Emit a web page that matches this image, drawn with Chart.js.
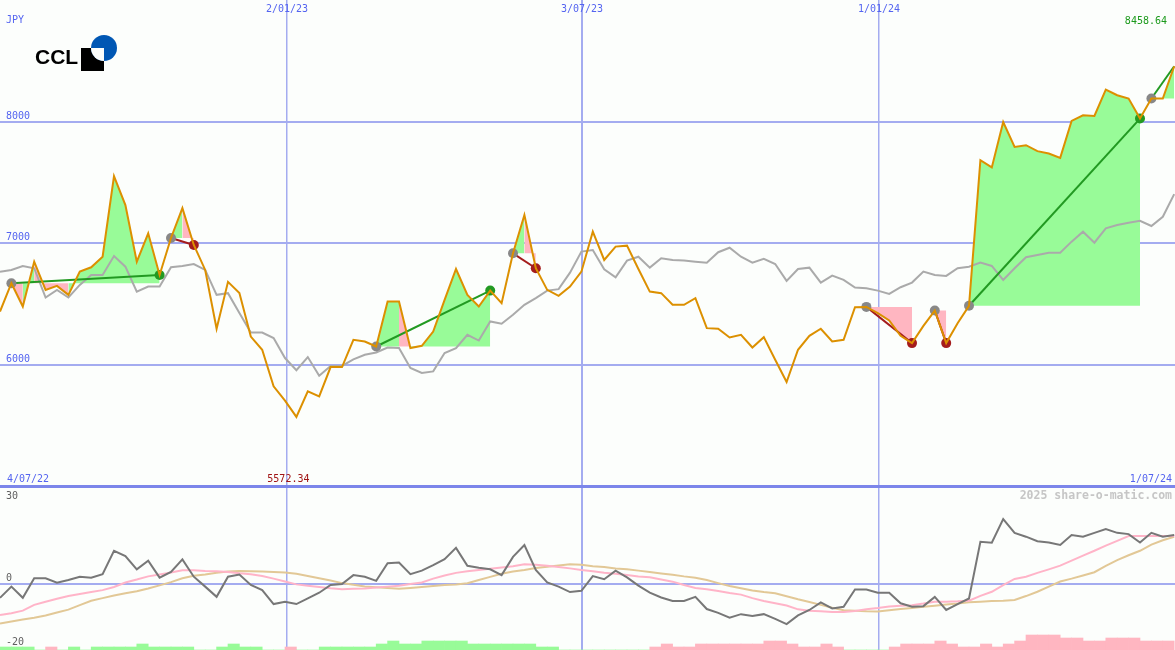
<!DOCTYPE html>
<html>
<head>
<meta charset="utf-8">
<title>CCL weekly</title>
<script src="https://cdn.jsdelivr.net/npm/chart.js@4.4.1/dist/chart.umd.min.js"></script>
<style>
  html, body { margin: 0; padding: 0; background: #fcfefc; }
  #wrap { position: relative; width: 1175px; height: 650px; overflow: hidden; background: #fcfefc; }
  #priceChart { position: absolute; left: 0; top: 0; }
  #momentumChart { position: absolute; left: 0; top: 489px; }
</style>
</head>
<body>
<div id="wrap">
  <canvas id="priceChart" width="1175" height="489"></canvas>
  <canvas id="momentumChart" width="1175" height="161"></canvas>
</div>
<script>
// Weekly closes, 4/07/22 .. 1/07/24 (one value per week)
const price = [
  6440, 6673, 6481, 6850, 6618, 6651, 6577, 6768, 6804, 6891,
  7554, 7316, 6850, 7084, 6741, 7045, 7291, 6988, 6782, 6298,
  6684, 6593, 6234, 6125, 5824, 5706, 5572.34, 5783, 5742, 5983,
  5983, 6207, 6193, 6152, 6522, 6522, 6139, 6158, 6275, 6536,
  6790, 6577, 6481, 6612, 6509, 6919, 7234, 6796, 6618, 6569,
  6645, 6768, 7097, 6864, 6974, 6982, 6790, 6604, 6591, 6495,
  6495, 6550, 6303, 6298, 6226, 6248, 6144, 6229, 6043, 5860,
  6125, 6240, 6298, 6193, 6207, 6476, 6478, 6427, 6367, 6240,
  6180, 6322, 6448, 6180, 6344, 6487, 7686, 7626, 8000, 7795,
  7809, 7760, 7741, 7705, 8009, 8055, 8050, 8267, 8220, 8193,
  8028, 8193, 8193, 8458.64
];

// grey moving average
const average = [
  6768, 6782, 6815, 6796, 6555, 6618, 6555, 6659, 6741, 6741,
  6897, 6809, 6604, 6645, 6645, 6804, 6815, 6831, 6782, 6577,
  6591, 6427, 6267, 6267, 6221, 6057, 5957, 6065, 5912, 5992,
  5992, 6046, 6084, 6103, 6144, 6139, 5975, 5934, 5947, 6098,
  6139, 6248, 6201, 6358, 6339, 6413, 6495, 6550, 6612, 6624,
  6760, 6933, 6946, 6788, 6722, 6859, 6891, 6801, 6878, 6864,
  6859, 6850, 6842, 6928, 6965, 6891, 6842, 6873, 6831, 6692,
  6790, 6801, 6678, 6735, 6700, 6637, 6632, 6612, 6585, 6640,
  6678, 6768, 6741, 6733, 6796, 6809, 6842, 6815, 6700, 6796,
  6887, 6905, 6924, 6924, 7015, 7097, 7006, 7125, 7152, 7171,
  7187, 7144, 7220, 7406
];

// lower panel: momentum and its two smoothings
const momentum = [
  -4.3, -0.8, -4.3, 1.8, 1.8, 0.4, 1.25, 2.3, 2.0, 3.1,
  10.4, 8.75, 4.6, 7.3, 2.0, 3.8, 7.7, 2.3, -0.8, -4.0,
  2.3, 3.0, -0.3, -1.9, -6.25, -5.5, -6.25, -4.5, -2.7, -0.3,
  0, 2.8, 2.3, 1.0, 6.5, 6.7, 3.1, 4.2, 5.9, 7.8,
  11.3, 5.7, 5.1, 4.6, 2.8, 8.5, 12.2, 4.4, 0.5, -0.8,
  -2.5, -2.1, 2.5, 1.5, 4.2, 2.1, -0.5, -2.7, -4.2, -5.3,
  -5.3, -4.0, -7.8, -9.0, -10.5, -9.4, -10.0, -9.4, -10.9, -12.5,
  -9.8, -8.1, -5.7, -7.6, -7.1, -1.7, -1.7, -2.7, -2.7, -6.0,
  -7.1, -6.9, -4.0, -8.1, -6.3, -4.5, 13.2, 12.9, 20.3, 16.0,
  14.8, 13.4, 13.0, 12.2, 15.3, 14.8, 16.0, 17.2, 16.0, 15.6,
  13.0, 16.0, 14.8, 15.3
];
const momentumFast = [
  -9.7, -9.1, -8.3, -6.5, -5.5, -4.6, -3.7, -3.1, -2.5, -1.9,
  -0.9, 0.5, 1.4, 2.4, 3.0, 3.6, 4.3, 4.3, 4.1, 4.0,
  3.8, 3.4, 3.1, 2.5, 1.7, 0.8, -0.1, -0.5, -0.9, -1.3,
  -1.6, -1.5, -1.4, -1.1, -0.8, -0.5, 0, 0.5, 1.7, 2.7,
  3.5, 4.0, 4.4, 4.8, 5.2, 5.6, 6.2, 6.0, 5.7, 5.3,
  4.9, 4.4, 4.0, 3.5, 3.2, 2.8, 2.4, 2.1, 1.4, 0.75,
  -0.3, -1.2, -1.6, -2.2, -2.8, -3.3, -4.4, -5.3, -6.0, -6.7,
  -7.9, -8.3, -8.5, -8.7, -8.7, -8.4, -7.9, -7.5, -7.0, -6.75,
  -6.6, -6.1, -5.5, -5.5, -5.4, -5.2, -3.7, -2.4, -0.3, 1.6,
  2.3, 3.5, 4.6, 5.75, 7.3, 8.9, 10.4, 12.0, 13.5, 15.0,
  15.0, 15.0, 15.0, 15.0
];
const momentumSlow = [
  -12.3, -11.7, -11.1, -10.5, -9.8, -8.9, -8.0, -6.6, -5.2, -4.4,
  -3.6, -2.9, -2.25, -1.4, -0.4, 0.6, 1.8, 2.6, 3.0, 3.5,
  3.9, 4.1, 4.0, 3.9, 3.75, 3.6, 3.2, 2.5, 1.8, 1.1,
  0.3, -0.2, -0.75, -1.0, -1.25, -1.5, -1.2, -0.9, -0.6, -0.3,
  -0.1, 0.25, 1.25, 2.25, 3.2, 3.9, 4.4, 5.0, 5.4, 5.8,
  6.2, 6.0, 5.6, 5.3, 4.9, 4.6, 4.2, 3.75, 3.3, 2.9,
  2.4, 2.0, 1.25, 0.3, -0.6, -1.3, -2.0, -2.5, -2.9, -3.8,
  -4.75, -5.6, -6.5, -7.4, -8.2, -8.3, -8.5, -8.6, -8.2, -7.8,
  -7.5, -7.1, -6.75, -6.4, -6.1, -5.7, -5.5, -5.3, -5.2, -5.0,
  -3.75, -2.4, -0.8, 0.8, 1.7, 2.7, 3.7, 5.7, 7.5, 9.0,
  10.4, 12.3, 13.7, 14.8
];
// small histogram along the bottom edge (+ green, - pink), one per week
const barLevel = [
  1, 1, 1, 0, -1, 0, 1, 0, 1, 1,
  1, 1, 2, 1, 1, 1, 1, 0, 0, 1,
  2, 1, 1, 0, 0, -1, 0, 0, 1, 1,
  1, 1, 1, 2, 3, 2, 2, 3, 3, 3,
  3, 2, 2, 2, 2, 2, 2, 1, 1, 0,
  0, 0, 0, 0, 0, 0, 0, -1, -2, -1,
  -1, -2, -2, -2, -2, -2, -2, -3, -3, -2,
  -1, -1, -2, -1, 0, 0, 0, 0, -1, -2,
  -2, -2, -3, -2, -1, -1, -2, -1, -2, -3,
  -5, -5, -5, -4, -4, -3, -3, -4, -4, -4,
  -3, -3, -3
];

// trades: entry week / exit week (last one still open)
const tradeOpen = [1, 15, 33, 45, 76, 82, 85, 101];
const tradeClose = [14, 17, 43, 47, 80, 83, 100, 103];

const dateGrid = [25.18, 51.05, 77.11];
const dateLabels = ['2/01/23', '3/07/23', '1/01/24'];
const firstDate = '4/07/22';
const lastDate = '1/07/24';
const currency = 'JPY';
const priceGrid = [5000, 6000, 7000, 8000];
const momentumLabels = [30, 0, -20];

const GREEN_FILL = '#98fb98';
const PINK_FILL = '#ffb6c1';
const GRID = '#a4acf0';
const DIVIDER = '#7c86ea';
const BLUE_TEXT = '#5464f0';
const FONT = '10px "DejaVu Sans Mono"';

const lowIndex = price.indexOf(Math.min(...price));
const toPoints = arr => arr.map((v, i) => ({x: i, y: v}));

function dateAxis() {
  return {
    type: 'linear', min: 0, max: 103.07, offset: false,
    afterBuildTicks: s => { s.ticks = dateGrid.map(v => ({value: v})); },
    ticks: {display: false},
    grid: {color: GRID, lineWidth: c => (c.index === 1 ? 2 : 1.5), drawTicks: false, offset: false},
    border: {display: false}
  };
}

// shaded areas between price and entry level for each trade
const fillSets = tradeOpen.map((start, t) => {
  const level = price[start];
  return {
    data: toPoints(price).slice(start, tradeClose[t] + 1),
    borderColor: 'transparent', borderWidth: 0, pointRadius: 0,
    backgroundColor: GREEN_FILL,
    fill: {target: {value: level}},
    segment: {backgroundColor: c => (c.p1.parsed.y < level ? PINK_FILL : GREEN_FILL)},
    order: 10
  };
});

const tradeSets = tradeOpen.map((start, t) => {
  const end = tradeClose[t];
  const win = price[end] >= price[start];
  const isOpen = t === tradeOpen.length - 1;
  const col = win ? '#229a22' : '#a41c1c';
  return {
    data: [{x: start, y: price[start]}, {x: end, y: price[end]}],
    borderColor: col, borderWidth: 2,
    pointRadius: [5, isOpen ? 0 : 5],
    pointBackgroundColor: ['#888888', col],
    pointBorderWidth: 0, fill: false, order: 6
  };
});

const priceText = {
  id: 'priceText',
  afterDraw(chart) {
    const {ctx, scales: {x, y}} = chart;
    ctx.save();
    ctx.font = FONT;
    ctx.textBaseline = 'middle';
    ctx.fillStyle = BLUE_TEXT;
    ctx.textAlign = 'left';
    ctx.fillText(currency, 6, 20);
    priceGrid.slice(1).forEach(v => ctx.fillText(String(v), 6, y.getPixelForValue(v) - 6));
    ctx.fillText(firstDate, 7, 479);
    ctx.textAlign = 'center';
    dateGrid.forEach((v, i) => ctx.fillText(dateLabels[i], x.getPixelForValue(v), 9));
    ctx.textAlign = 'right';
    ctx.fillText(lastDate, 1172, 479);
    ctx.fillStyle = '#1c9a1c';
    ctx.fillText(price[price.length - 1].toFixed(2), 1167, 21);
    ctx.fillStyle = '#a01414';
    ctx.textAlign = 'center';
    ctx.fillText(price[lowIndex].toFixed(2), x.getPixelForValue(lowIndex) - 8, 479);

    // logo
    ctx.fillStyle = '#000';
    ctx.font = 'bold 21px "Liberation Sans"';
    ctx.textAlign = 'left';
    ctx.textBaseline = 'alphabetic';
    ctx.fillText('CCL', 35, 64);
    ctx.fillRect(81, 48, 23, 23);
    ctx.fillStyle = '#0057b4';
    ctx.beginPath();
    ctx.arc(104, 48, 13, 0, Math.PI * 2);
    ctx.fill();
    ctx.fillStyle = '#fcfefc';
    ctx.beginPath();
    ctx.moveTo(104, 48);
    ctx.arc(104, 48, 13, Math.PI / 2, Math.PI);
    ctx.closePath();
    ctx.fill();
    ctx.restore();
  }
};

new Chart(document.getElementById('priceChart'), {
  type: 'line',
  data: {
    datasets: [
      ...fillSets,
      {data: toPoints(average), borderColor: '#aaaaaa', borderWidth: 2, pointRadius: 0, order: 8},
      ...tradeSets,
      {data: toPoints(price), borderColor: '#dc9000', borderWidth: 2, pointRadius: 0, order: 4}
    ]
  },
  options: {
    responsive: false,
    animation: false,
    events: [],
    layout: {padding: 0, autoPadding: false},
    elements: {line: {tension: 0}},
    plugins: {legend: {display: false}, tooltip: {enabled: false}},
    scales: {
      x: dateAxis(),
      y: {
        type: 'linear', min: 4979, max: 9004,
        afterBuildTicks: s => { s.ticks = priceGrid.map(v => ({value: v})); },
        ticks: {display: false},
        grid: {
          color: c => (c.tick.value === 5000 ? DIVIDER : GRID),
          lineWidth: c => (c.tick.value === 5000 ? 3 : 2),
          drawTicks: false
        },
        border: {display: false}
      }
    }
  },
  plugins: [priceText]
});

const momentumText = {
  id: 'momentumText',
  afterDraw(chart) {
    const {ctx, scales: {y}} = chart;
    ctx.save();
    ctx.font = FONT;
    ctx.textBaseline = 'middle';
    ctx.textAlign = 'left';
    ctx.fillStyle = '#606060';
    momentumLabels.forEach(v => {
      const py = y.getPixelForValue(v);
      ctx.fillText(String(v), 6, v === 30 ? py + 8 : py - 6);
    });
    ctx.font = 'bold 11.5px "DejaVu Sans Mono"';
    ctx.fillStyle = '#c6c6c6';
    ctx.textAlign = 'right';
    ctx.fillText('2025 share-o-matic.com', 1172, 7);
    ctx.restore();
  }
};

new Chart(document.getElementById('momentumChart'), {
  type: 'line',
  data: {
    datasets: [
      {
        type: 'bar', yAxisID: 'yb',
        data: barLevel.map((v, i) => ({x: i + 0.5, y: Math.abs(v)})),
        backgroundColor: barLevel.map(v => (v < 0 ? PINK_FILL : GREEN_FILL)),
        barPercentage: 1, categoryPercentage: 1, borderWidth: 0, order: 10
      },
      {data: toPoints(momentumSlow), borderColor: '#e2c896', borderWidth: 2, pointRadius: 0, order: 8},
      {data: toPoints(momentumFast), borderColor: '#ffb4c8', borderWidth: 2, pointRadius: 0, order: 7},
      {data: toPoints(momentum), borderColor: '#777777', borderWidth: 2, pointRadius: 0, order: 5}
    ]
  },
  options: {
    responsive: false,
    animation: false,
    events: [],
    layout: {padding: 0, autoPadding: false},
    elements: {line: {tension: 0}},
    plugins: {legend: {display: false}, tooltip: {enabled: false}},
    scales: {
      x: dateAxis(),
      y: {
        type: 'linear', min: -20.6, max: 29.7,
        afterBuildTicks: s => { s.ticks = [{value: 0}]; },
        ticks: {display: false},
        grid: {color: GRID, lineWidth: 2, drawTicks: false},
        border: {display: false}
      },
      yb: {type: 'linear', min: 0, max: 53.7, display: false}
    }
  },
  plugins: [momentumText]
});
</script>
</body>
</html>
